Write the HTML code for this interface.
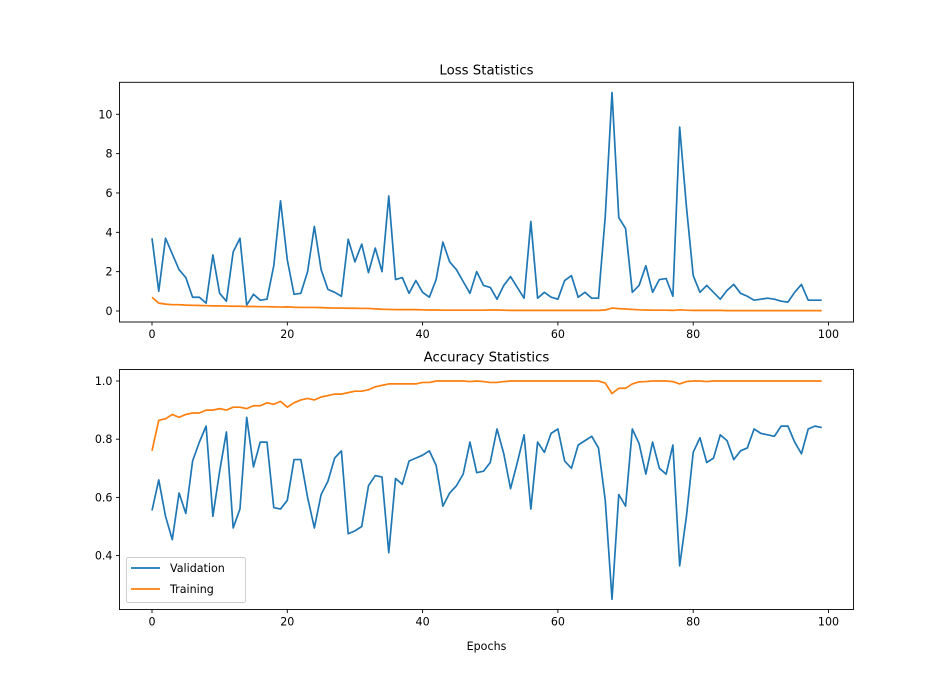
<!DOCTYPE html>
<html><head><meta charset="utf-8"><style>
html,body{margin:0;padding:0;background:#fff;}
svg{display:block;font-family:"DejaVu Sans","Liberation Sans",sans-serif;}
</style></head><body>
<svg id="fig" width="949" height="685" viewBox="0 0 949 685" xmlns="http://www.w3.org/2000/svg"></svg>
<script>
const epochs = Array.from({length:100},(_,i)=>i);
const lossVal = [3.7,1.0,3.7,2.9,2.1,1.7,0.7,0.7,0.4,2.85,0.9,0.5,3.0,3.7,0.3,0.85,0.55,0.6,2.3,5.6,2.6,0.85,0.9,2.0,4.3,2.1,1.1,0.95,0.75,3.65,2.5,3.4,1.95,3.2,2.0,5.85,1.6,1.7,0.9,1.55,0.95,0.7,1.6,3.5,2.5,2.1,1.5,0.9,2.0,1.3,1.2,0.6,1.3,1.75,1.2,0.65,4.55,0.65,0.95,0.7,0.6,1.55,1.8,0.7,0.95,0.65,0.65,4.8,11.1,4.75,4.2,0.95,1.3,2.3,0.95,1.6,1.65,0.75,9.35,5.3,1.8,0.95,1.3,0.95,0.6,1.05,1.35,0.9,0.75,0.55,0.6,0.65,0.6,0.5,0.45,0.95,1.35,0.55,0.55,0.55];
const lossTrain = [0.7,0.4,0.35,0.32,0.32,0.3,0.29,0.28,0.27,0.26,0.26,0.25,0.24,0.24,0.23,0.23,0.22,0.22,0.21,0.2,0.21,0.19,0.18,0.18,0.18,0.17,0.16,0.15,0.15,0.14,0.14,0.13,0.13,0.11,0.09,0.08,0.07,0.07,0.07,0.07,0.06,0.05,0.05,0.04,0.04,0.04,0.04,0.04,0.04,0.04,0.05,0.05,0.04,0.03,0.03,0.03,0.03,0.03,0.03,0.03,0.03,0.03,0.03,0.03,0.03,0.03,0.03,0.05,0.15,0.12,0.1,0.08,0.06,0.05,0.04,0.04,0.04,0.03,0.06,0.04,0.03,0.03,0.03,0.03,0.03,0.02,0.02,0.02,0.02,0.02,0.02,0.02,0.02,0.02,0.02,0.02,0.02,0.02,0.02,0.02];
const accVal = [0.555,0.66,0.535,0.455,0.615,0.545,0.725,0.79,0.845,0.535,0.69,0.825,0.495,0.56,0.875,0.705,0.79,0.79,0.565,0.56,0.59,0.73,0.73,0.6,0.495,0.61,0.655,0.735,0.76,0.475,0.485,0.5,0.64,0.675,0.67,0.41,0.665,0.645,0.725,0.735,0.745,0.76,0.71,0.57,0.615,0.64,0.68,0.79,0.685,0.69,0.72,0.835,0.75,0.63,0.72,0.815,0.56,0.79,0.755,0.82,0.835,0.725,0.7,0.78,0.795,0.81,0.77,0.59,0.25,0.61,0.57,0.835,0.785,0.68,0.79,0.7,0.68,0.78,0.365,0.535,0.755,0.805,0.72,0.735,0.815,0.795,0.73,0.76,0.77,0.835,0.82,0.815,0.81,0.845,0.845,0.79,0.75,0.835,0.845,0.84];
const accTrain = [0.76,0.865,0.87,0.885,0.875,0.885,0.89,0.89,0.9,0.9,0.905,0.9,0.91,0.91,0.905,0.915,0.915,0.925,0.92,0.93,0.91,0.925,0.935,0.94,0.935,0.945,0.95,0.955,0.955,0.96,0.965,0.965,0.97,0.98,0.985,0.99,0.99,0.99,0.99,0.99,0.995,0.995,1.0,1.0,1.0,1.0,1.0,0.998,1.0,0.998,0.995,0.995,0.998,1.0,1.0,1.0,1.0,1.0,1.0,1.0,1.0,1.0,1.0,1.0,1.0,1.0,1.0,0.993,0.957,0.975,0.975,0.99,0.997,0.998,1.0,1.0,1.0,0.998,0.99,0.998,1.0,1.0,0.998,1.0,1.0,1.0,1.0,1.0,1.0,1.0,1.0,1.0,1.0,1.0,1.0,1.0,1.0,1.0,1.0,1.0];
const xTicks = [0,20,40,60,80,100];
const lossTicks = [0,2,4,6,8,10];
const accTicks = [0.4,0.6,0.8,1.0];

const NS='http://www.w3.org/2000/svg';
const svg=document.getElementById('fig');
function el(tag,attrs,parent){const e=document.createElementNS(NS,tag);for(const k in attrs)e.setAttribute(k,attrs[k]);(parent||svg).appendChild(e);return e;}
const L=119.5,R=853.5;
const xS=v=>152+(v-0)*6.765;
function panel(name,top,bottom,yS,yTicks,fmt,series,title){
  const g=el('g',{});
  
  
  series.forEach(s=>{
    const p=el('polyline',{points:s.data.map((v,i)=>xS(epochs[i]).toFixed(2)+','+yS(v).toFixed(2)).join(' '),fill:'none',stroke:s.color,'stroke-width':1.7,'stroke-linejoin':'round'},g);
    
    
  });
  const fr=el('rect',{x:L,y:top,width:R-L,height:bottom-top,fill:'none',stroke:'#000','stroke-width':0.9},g);
  
  
  xTicks.forEach(t=>{
    const x=xS(t);
    el('line',{x1:x,x2:x,y1:bottom,y2:bottom+3.5,stroke:'#000','stroke-width':0.9},g);
    const tx=el('text',{x:x,y:bottom+16,'text-anchor':'middle','font-size':11.1,fill:'#000'},g);
    tx.textContent=t;
    
    
  });
  yTicks.forEach(t=>{
    const y=yS(t);
    el('line',{x1:L-3.5,x2:L,y1:y,y2:y,stroke:'#000','stroke-width':0.9},g);
    const tx=el('text',{x:L-7,y:y+4,'text-anchor':'end','font-size':11.1,fill:'#000'},g);
    tx.textContent=fmt(t);
    
    
  });
  const tt=el('text',{x:(L+R)/2,y:top-8,'text-anchor':'middle','font-size':13.3,fill:'#000'},g);
  tt.textContent=title;
  
  
}
const lossY=v=>311-v*19.67;
const accY=v=>381+(1-v)*291;
panel('loss-chart',82.3,322,lossY,lossTicks,t=>String(t),[{data:lossVal,color:'#1f77b4',name:'loss-validation-line'},{data:lossTrain,color:'#ff7f0e',name:'loss-training-line'}],'Loss Statistics');
panel('accuracy-chart',369.5,609.5,accY,accTicks,t=>t.toFixed(1),[{data:accVal,color:'#1f77b4',name:'accuracy-validation-line'},{data:accTrain,color:'#ff7f0e',name:'accuracy-training-line'}],'Accuracy Statistics');
const xl=el('text',{x:(L+R)/2,y:650,'text-anchor':'middle','font-size':11.1,fill:'#000'});
xl.textContent='Epochs';


// legend
const lg=el('g',{});


el('rect',{x:126.5,y:557.5,width:119,height:45,rx:2,fill:'#fff','fill-opacity':0.8,stroke:'#ccc','stroke-width':0.9},lg);
[['Validation','#1f77b4',568],['Training','#ff7f0e',589]].forEach(([t,c,y])=>{
  const e=el('g',{},lg);
  
  
  el('line',{x1:131,x2:160,y1:y,y2:y,stroke:c,'stroke-width':1.7},e);
  const tx=el('text',{x:170,y:y+4,'font-size':11.1,fill:'#000'},e);
  tx.textContent=t;
});
</script>
</body></html>
